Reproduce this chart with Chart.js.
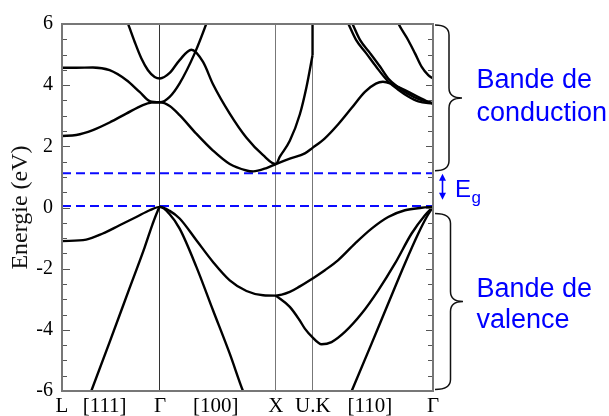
<!DOCTYPE html>
<html><head><meta charset="utf-8">
<script src="https://cdn.jsdelivr.net/npm/chart.js@4"></script>
<style>html,body{margin:0;padding:0;background:#fff}canvas{display:block}</style>
</head><body>
<canvas id="c" width="609" height="416"></canvas>
<script>
// k-path (units of 2π/a along the drawn path)
const K_TICKS  = [0, 0.377, 0.866, 1.359, 1.890, 2.218, 2.722, 3.28];
const K_LABELS = ['L', '[111]', 'Γ', '[100]', 'X', 'U.K', '[110]', 'Γ'];
const K_SYMMETRY = [0.866, 1.890, 2.218];
const K_END = 3.28;

// energy axis
const E_MIN = -6, E_MAX = 6;
const E_LABELS = [-6, -4, -2, 0, 2, 4, 6];
const E_VALENCE_TOP = 0.05;
const E_CONDUCTION_MIN = 1.12;

// valence bands  [k, E(eV)]
const VB_STEEP_LGX = [[0,-8.5],[0.259,-6.0],[0.421,-4.40],[0.598,-2.63],[0.730,-1.31],[0.800,-0.55],[0.845,-0.12],[0.866,0.02],
  [0.952,-0.22],[1.040,-0.69],[1.188,-1.94],[1.335,-3.36],[1.483,-4.78],[1.601,-6.01],[1.890,-8.5]];
const VB_HEAVY = [[0,-1.10],[0.214,-1.05],[0.361,-0.85],[0.509,-0.58],[0.657,-0.31],[0.775,-0.09],[0.866,0.02],
  [0.952,-0.11],[1.040,-0.36],[1.188,-1.07],[1.335,-1.78],[1.483,-2.38],[1.631,-2.73],[1.778,-2.87],[1.890,-2.88],
  [2.014,-2.76],[2.103,-2.58],[2.191,-2.38],[2.324,-2.05],[2.442,-1.72],[2.590,-1.18],[2.737,-0.69],[2.884,-0.31],
  [3.032,-0.09],[3.180,-0.01],[3.28,0.02]];
const VB_MID_XKG = [[1.890,-2.88],[2.014,-3.25],[2.103,-3.70],[2.147,-3.96],[2.211,-4.23],[2.295,-4.47],[2.383,-4.40],
  [2.501,-4.07],[2.649,-3.47],[2.796,-2.71],[2.944,-1.83],[3.091,-0.85],[3.209,-0.25],[3.28,0.02]];
const VB_STEEP_KG = [[2.215,-9.0],[2.560,-6.01],[2.737,-4.45],[2.884,-3.14],[3.032,-1.83],[3.150,-0.85],[3.224,-0.31],[3.28,0.02]];

// conduction bands  [k, E(eV)]
const CB_LOW = [[0,2.34],[0.126,2.37],[0.273,2.53],[0.421,2.78],[0.568,3.07],[0.715,3.35],[0.790,3.43],[0.866,3.44],
  [0.952,3.32],[1.040,3.02],[1.188,2.41],[1.335,1.86],[1.483,1.42],[1.631,1.21],[1.689,1.18],[1.808,1.29],[1.890,1.42],
  [2.014,1.60],[2.147,1.77],[2.215,1.95],[2.324,2.26],[2.442,2.72],[2.560,3.25],[2.678,3.78],[2.775,4.05],[2.837,4.11],
  [2.908,4.05],[3.003,3.89],[3.121,3.67],[3.238,3.46],[3.28,3.40]];
const CB_SECOND = [[0,4.57],[0.126,4.57],[0.273,4.58],[0.421,4.49],[0.568,4.17],[0.686,3.78],[0.775,3.48],[0.866,3.44],
  [0.952,3.62],[1.040,4.06],[1.173,5.04],[1.277,6.02],[1.350,6.8]];
const CB_THIRD = [[0.527,6.6],[0.583,6.02],[0.642,5.42],[0.701,4.88],[0.760,4.49],[0.819,4.27],[0.866,4.22],
  [0.952,4.40],[1.040,4.82],[1.144,5.16],[1.247,4.76],[1.335,4.03],[1.483,3.07],[1.631,2.28],[1.778,1.71],[1.890,1.42],
  [1.926,1.66],[2.014,2.18],[2.103,3.05],[2.162,3.95],[2.215,4.98]];
const CB_THIRD_UK = [[2.215,4.98],[2.215,6.6]];
const CB_KG_A = [[2.474,6.45],[2.530,6.02],[2.601,5.47],[2.690,5.04],[2.778,4.60],[2.884,4.12],[2.973,3.85],[3.061,3.63],[3.150,3.47],[3.28,3.40]];
const CB_KG_B = [[2.510,6.45],[2.566,6.02],[2.636,5.47],[2.725,5.04],[2.813,4.60],[2.884,4.22],[2.973,3.93],[3.061,3.71],[3.150,3.55],[3.28,3.40]];
const CB_KG_TOP = [[2.917,6.5],[2.973,6.02],[3.061,5.47],[3.121,5.04],[3.180,4.60],[3.238,4.33],[3.28,4.22]];

const BANDS = [VB_STEEP_LGX, VB_HEAVY, VB_MID_XKG, VB_STEEP_KG, CB_LOW, CB_SECOND, CB_THIRD, CB_KG_A, CB_KG_B, CB_KG_TOP];

const pts = a => a.map(p => ({x: p[0], y: p[1]}));
const bandStyle = {borderColor:'#000', borderWidth:2.4, pointRadius:0, fill:false, cubicInterpolationMode:'monotone', clip:0, order:1};
const datasets = BANDS.map(b => Object.assign({}, bandStyle, {data: pts(b)}));
datasets.push(Object.assign({}, bandStyle, {data: pts(CB_THIRD_UK), cubicInterpolationMode:'default', tension:0}));
[E_VALENCE_TOP, E_CONDUCTION_MIN].forEach(e => datasets.push({
  data: [{x:0, y:e}, {x:K_END, y:e}], borderColor:'#0a0aff', borderWidth:2, borderDash:[9,5],
  pointRadius:0, fill:false, tension:0, clip:0, order:5
}));

function brace(ctx, x0, x1, x2, yTop, yBot, r) {
  const yMid = (yTop + yBot) / 2;
  ctx.beginPath();
  ctx.moveTo(x0, yTop);
  ctx.quadraticCurveTo(x1, yTop, x1, yTop + r);
  ctx.lineTo(x1, yMid - r);
  ctx.quadraticCurveTo(x1, yMid, x2, yMid);
  ctx.quadraticCurveTo(x1, yMid, x1, yMid + r);
  ctx.lineTo(x1, yBot - r);
  ctx.quadraticCurveTo(x1, yBot, x0, yBot);
  ctx.stroke();
}

const annot = {
  id: 'annot',
  afterDraw(chart) {
    const {ctx, chartArea: a, scales: {y}} = chart;
    ctx.save();
    // inner ticks on left and right axes
    ctx.strokeStyle = '#555'; ctx.lineWidth = 1.2;
    y.ticks.forEach(t => {
      const py = Math.round(y.getPixelForValue(t.value)) + 0.5;
      const major = Math.abs(t.value % 2) < 1e-9;
      const ll = major ? 8 : 5, lr = major ? 7 : 5;
      ctx.beginPath();
      ctx.moveTo(a.left, py); ctx.lineTo(a.left + ll, py);
      ctx.moveTo(a.right, py); ctx.lineTo(a.right - lr, py);
      ctx.stroke();
    });
    // frame
    ctx.strokeStyle = '#777'; ctx.lineWidth = 2;
    ctx.strokeRect(a.left, a.top, a.right - a.left, a.bottom - a.top);

    // braces
    ctx.strokeStyle = '#111'; ctx.lineWidth = 1.5;
    brace(ctx, a.right + 2, a.right + 16, a.right + 29, y.getPixelForValue(6) + 1, y.getPixelForValue(1.2), 10);
    brace(ctx, a.right + 2, a.right + 17.5, a.right + 30, y.getPixelForValue(-0.2), y.getPixelForValue(-5.95), 10);

    // Eg arrow
    const ax = a.right + 9.5;
    const yT = y.getPixelForValue(E_CONDUCTION_MIN) + 0.5, yB = y.getPixelForValue(0.25);
    ctx.strokeStyle = '#0000ff'; ctx.fillStyle = '#0000ff'; ctx.lineWidth = 1.6;
    ctx.beginPath(); ctx.moveTo(ax, yT + 5); ctx.lineTo(ax, yB - 5); ctx.stroke();
    ctx.beginPath(); ctx.moveTo(ax, yT); ctx.lineTo(ax - 3.5, yT + 7); ctx.lineTo(ax + 3.5, yT + 7); ctx.closePath(); ctx.fill();
    ctx.beginPath(); ctx.moveTo(ax, yB); ctx.lineTo(ax - 3.5, yB - 7); ctx.lineTo(ax + 3.5, yB - 7); ctx.closePath(); ctx.fill();

    // texts
    ctx.textAlign = 'left'; ctx.textBaseline = 'alphabetic';
    ctx.font = '24px "Liberation Sans", Arial, sans-serif';
    ctx.fillText('E', 455, 197);
    ctx.font = '17px "Liberation Sans", Arial, sans-serif';
    ctx.fillText('g', 471.5, 203);
    ctx.font = '27px "Liberation Sans", Arial, sans-serif';
    ctx.fillText('Bande de', 476.5, 88);
    ctx.fillText('conduction', 476.5, 121);
    ctx.fillText('Bande de', 476.5, 297);
    ctx.fillText('valence', 476.5, 328);
    ctx.restore();
  }
};

new Chart(document.getElementById('c').getContext('2d'), {
  type: 'line',
  data: {datasets},
  plugins: [annot],
  options: {
    responsive: false, animation: false, devicePixelRatio: 1,
    layout: {padding: {left: 0, right: 176, top: 24, bottom: 0}},
    plugins: {legend: {display: false}, tooltip: {enabled: false}},
    scales: {
      x: {
        type: 'linear', min: 0, max: K_END,
        afterBuildTicks: s => { s.ticks = K_TICKS.map(v => ({value: v})); },
        afterFit: s => { s.height = 25; },
        ticks: {autoSkip: false, maxRotation: 0, minRotation: 0, padding: 3, color: '#000',
          font: {family: '"Liberation Serif", "Times New Roman", serif', size: 21},
          callback: (v, i) => K_LABELS[i]},
        grid: {drawTicks: false, lineWidth: 1,
          color: c => (c.tick && K_SYMMETRY.includes(c.tick.value)) ? (c.tick.value === 0.866 ? '#333' : '#777') : 'rgba(0,0,0,0)'},
        border: {display: false}
      },
      y: {
        min: E_MIN, max: E_MAX,
        afterFit: s => { s.width = 62; },
        ticks: {stepSize: 0.5, maxTicksLimit: 40, autoSkip: false, padding: 9, color: '#000',
          font: {family: '"Liberation Serif", "Times New Roman", serif', size: 20},
          callback: v => E_LABELS.includes(v) ? String(v) : ''},
        grid: {drawOnChartArea: false, drawTicks: false},
        border: {display: false},
        title: {display: true, text: 'Energie (eV)', color: '#111',
          font: {family: '"Liberation Serif", "Times New Roman", serif', size: 24}, padding: {top: 6, bottom: 0}}
      }
    }
  }
});
</script>
</body></html>
